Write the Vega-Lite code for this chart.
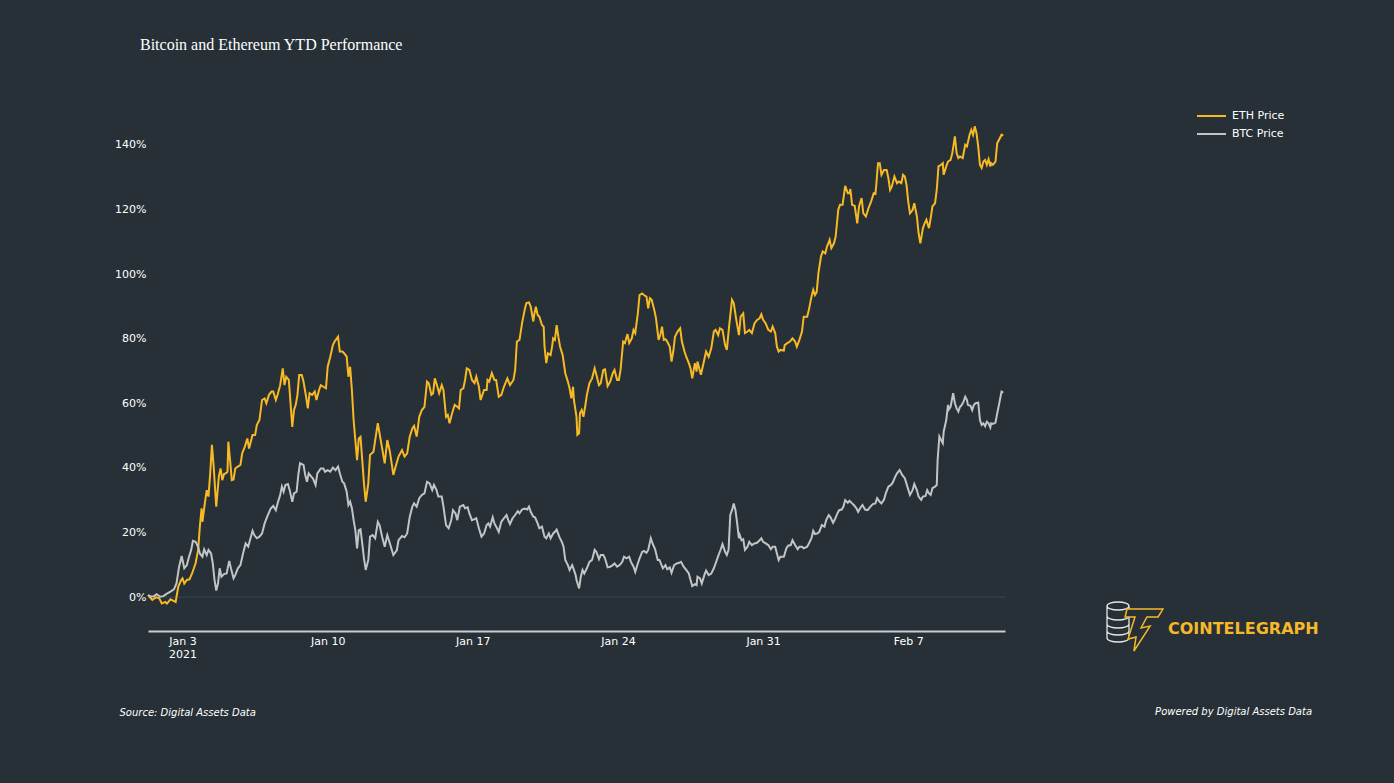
{
  "$schema": "https://vega.github.io/schema/vega-lite/v6.json",
  "width": 857,
  "height": 525,
  "autosize": {"type": "none"},
  "padding": {"left": 148, "top": 106, "right": 389, "bottom": 152},
  "background": "#263036",
  "title": {
    "text": "Bitcoin and Ethereum YTD Performance",
    "anchor": "start",
    "frame": "group",
    "dx": -8,
    "offset": 40,
    "baseline": "alphabetic",
    "font": "Liberation Serif",
    "fontSize": 16,
    "fontWeight": "normal",
    "color": "#ffffff"
  },
  "datasets": {
    "eth": [
      {"t": "2021-01-01T08:00", "v": 0.6}, {"t": "2021-01-01T13:00", "v": -0.9}, {"t": "2021-01-01T17:00", "v": -0.1}, {"t": "2021-01-01T21:00", "v": -0.4},
      {"t": "2021-01-02T00:00", "v": -2.0}, {"t": "2021-01-02T04:00", "v": -1.5}, {"t": "2021-01-02T06:00", "v": -2.0}, {"t": "2021-01-02T10:00", "v": -0.7},
      {"t": "2021-01-02T13:00", "v": -1.1}, {"t": "2021-01-02T16:00", "v": -1.5}, {"t": "2021-01-02T19:00", "v": 3.2}, {"t": "2021-01-02T22:00", "v": 5.1},
      {"t": "2021-01-03T00:00", "v": 5.8}, {"t": "2021-01-03T02:00", "v": 4.2}, {"t": "2021-01-03T05:00", "v": 5.3}, {"t": "2021-01-03T08:00", "v": 5.5},
      {"t": "2021-01-03T11:00", "v": 7.3}, {"t": "2021-01-03T15:00", "v": 10.4}, {"t": "2021-01-03T18:00", "v": 14.5}, {"t": "2021-01-03T20:00", "v": 21.8},
      {"t": "2021-01-03T22:00", "v": 27.5}, {"t": "2021-01-03T23:00", "v": 23.3}, {"t": "2021-01-04T02:00", "v": 29.5}, {"t": "2021-01-04T04:00", "v": 33.1},
      {"t": "2021-01-04T06:00", "v": 31.1}, {"t": "2021-01-04T08:00", "v": 38.3}, {"t": "2021-01-04T10:00", "v": 47.1}, {"t": "2021-01-04T12:00", "v": 40.4},
      {"t": "2021-01-04T15:00", "v": 28.0}, {"t": "2021-01-04T18:00", "v": 37.3}, {"t": "2021-01-04T20:00", "v": 39.8}, {"t": "2021-01-04T22:00", "v": 36.2},
      {"t": "2021-01-05T00:00", "v": 38.1}, {"t": "2021-01-05T02:00", "v": 38.3}, {"t": "2021-01-05T04:00", "v": 38.8}, {"t": "2021-01-05T05:00", "v": 48.1},
      {"t": "2021-01-05T07:00", "v": 42.4}, {"t": "2021-01-05T09:00", "v": 36.2}, {"t": "2021-01-05T11:00", "v": 36.4}, {"t": "2021-01-05T13:00", "v": 39.8},
      {"t": "2021-01-05T16:00", "v": 40.4}, {"t": "2021-01-05T19:00", "v": 40.9}, {"t": "2021-01-05T21:00", "v": 44.5}, {"t": "2021-01-06T00:00", "v": 46.5},
      {"t": "2021-01-06T03:00", "v": 49.1}, {"t": "2021-01-06T05:00", "v": 46.0}, {"t": "2021-01-06T09:00", "v": 50.2}, {"t": "2021-01-06T12:00", "v": 50.2},
      {"t": "2021-01-06T14:00", "v": 53.3}, {"t": "2021-01-06T17:00", "v": 54.8}, {"t": "2021-01-06T20:00", "v": 61.0}, {"t": "2021-01-06T23:00", "v": 61.5},
      {"t": "2021-01-07T01:00", "v": 60.0}, {"t": "2021-01-07T04:00", "v": 62.6}, {"t": "2021-01-07T07:00", "v": 63.6}, {"t": "2021-01-07T09:00", "v": 63.6},
      {"t": "2021-01-07T12:00", "v": 61.0}, {"t": "2021-01-07T14:00", "v": 62.6}, {"t": "2021-01-07T17:00", "v": 65.6}, {"t": "2021-01-07T20:00", "v": 70.8},
      {"t": "2021-01-07T22:00", "v": 65.6}, {"t": "2021-01-08T00:00", "v": 68.2}, {"t": "2021-01-08T03:00", "v": 67.2}, {"t": "2021-01-08T05:00", "v": 60.0},
      {"t": "2021-01-08T07:00", "v": 52.7}, {"t": "2021-01-08T09:00", "v": 57.9}, {"t": "2021-01-08T11:00", "v": 59.5}, {"t": "2021-01-08T13:00", "v": 62.6},
      {"t": "2021-01-08T15:00", "v": 68.7}, {"t": "2021-01-08T18:00", "v": 68.7}, {"t": "2021-01-08T20:00", "v": 66.7}, {"t": "2021-01-08T23:00", "v": 62.0},
      {"t": "2021-01-09T01:00", "v": 58.4}, {"t": "2021-01-09T03:00", "v": 63.1}, {"t": "2021-01-09T06:00", "v": 62.6}, {"t": "2021-01-09T09:00", "v": 63.6},
      {"t": "2021-01-09T11:00", "v": 61.0}, {"t": "2021-01-09T14:00", "v": 64.1}, {"t": "2021-01-09T16:00", "v": 65.6}, {"t": "2021-01-09T19:00", "v": 65.1},
      {"t": "2021-01-09T22:00", "v": 64.6}, {"t": "2021-01-10T00:00", "v": 71.3}, {"t": "2021-01-10T03:00", "v": 74.4}, {"t": "2021-01-10T06:00", "v": 78.0},
      {"t": "2021-01-10T08:00", "v": 79.1}, {"t": "2021-01-10T12:00", "v": 80.6}, {"t": "2021-01-10T14:00", "v": 76.0}, {"t": "2021-01-10T17:00", "v": 76.0},
      {"t": "2021-01-10T19:00", "v": 75.5}, {"t": "2021-01-10T22:00", "v": 74.4}, {"t": "2021-01-11T00:00", "v": 68.2}, {"t": "2021-01-11T02:00", "v": 71.3},
      {"t": "2021-01-11T04:00", "v": 64.1}, {"t": "2021-01-11T06:00", "v": 54.8}, {"t": "2021-01-11T08:00", "v": 48.6}, {"t": "2021-01-11T10:00", "v": 42.4},
      {"t": "2021-01-11T12:00", "v": 49.1}, {"t": "2021-01-11T14:00", "v": 49.6}, {"t": "2021-01-11T16:00", "v": 42.4}, {"t": "2021-01-11T18:00", "v": 35.2},
      {"t": "2021-01-11T20:00", "v": 29.5}, {"t": "2021-01-11T23:00", "v": 35.2}, {"t": "2021-01-12T01:00", "v": 44.0}, {"t": "2021-01-12T03:00", "v": 44.5},
      {"t": "2021-01-12T05:00", "v": 45.0}, {"t": "2021-01-12T07:00", "v": 48.6}, {"t": "2021-01-12T10:00", "v": 53.8}, {"t": "2021-01-12T12:00", "v": 50.7},
      {"t": "2021-01-12T14:00", "v": 47.6}, {"t": "2021-01-12T18:00", "v": 41.4}, {"t": "2021-01-12T21:00", "v": 48.6}, {"t": "2021-01-13T00:00", "v": 45.0},
      {"t": "2021-01-13T04:00", "v": 37.8}, {"t": "2021-01-13T06:00", "v": 39.8}, {"t": "2021-01-13T10:00", "v": 43.5}, {"t": "2021-01-13T14:00", "v": 45.5},
      {"t": "2021-01-13T17:00", "v": 43.5}, {"t": "2021-01-13T20:00", "v": 44.5}, {"t": "2021-01-13T23:00", "v": 49.7}, {"t": "2021-01-14T02:00", "v": 52.2},
      {"t": "2021-01-14T04:00", "v": 53.0}, {"t": "2021-01-14T07:00", "v": 49.7}, {"t": "2021-01-14T10:00", "v": 55.8}, {"t": "2021-01-14T13:00", "v": 57.9},
      {"t": "2021-01-14T16:00", "v": 58.9}, {"t": "2021-01-14T19:00", "v": 66.7}, {"t": "2021-01-14T21:00", "v": 66.2}, {"t": "2021-01-15T00:00", "v": 62.6},
      {"t": "2021-01-15T02:00", "v": 63.1}, {"t": "2021-01-15T04:00", "v": 67.7}, {"t": "2021-01-15T07:00", "v": 65.1}, {"t": "2021-01-15T09:00", "v": 63.1},
      {"t": "2021-01-15T12:00", "v": 65.6}, {"t": "2021-01-15T14:00", "v": 64.1}, {"t": "2021-01-15T17:00", "v": 55.8}, {"t": "2021-01-15T19:00", "v": 56.4},
      {"t": "2021-01-15T21:00", "v": 53.8}, {"t": "2021-01-16T00:00", "v": 56.9}, {"t": "2021-01-16T03:00", "v": 59.5}, {"t": "2021-01-16T06:00", "v": 58.9},
      {"t": "2021-01-16T08:00", "v": 58.4}, {"t": "2021-01-16T10:00", "v": 64.1}, {"t": "2021-01-16T13:00", "v": 64.6}, {"t": "2021-01-16T15:00", "v": 67.2},
      {"t": "2021-01-16T17:00", "v": 70.8}, {"t": "2021-01-16T20:00", "v": 70.3}, {"t": "2021-01-16T23:00", "v": 67.2}, {"t": "2021-01-17T02:00", "v": 66.2},
      {"t": "2021-01-17T04:00", "v": 68.2}, {"t": "2021-01-17T07:00", "v": 65.1}, {"t": "2021-01-17T09:00", "v": 61.0}, {"t": "2021-01-17T13:00", "v": 64.1},
      {"t": "2021-01-17T16:00", "v": 64.1}, {"t": "2021-01-17T17:00", "v": 67.2}, {"t": "2021-01-17T19:00", "v": 66.7}, {"t": "2021-01-17T22:00", "v": 69.3},
      {"t": "2021-01-18T01:00", "v": 67.2}, {"t": "2021-01-18T03:00", "v": 67.2}, {"t": "2021-01-18T06:00", "v": 62.0}, {"t": "2021-01-18T09:00", "v": 62.6},
      {"t": "2021-01-18T12:00", "v": 65.1}, {"t": "2021-01-18T16:00", "v": 67.7}, {"t": "2021-01-18T19:00", "v": 65.6}, {"t": "2021-01-18T23:00", "v": 67.2},
      {"t": "2021-01-19T01:00", "v": 70.3}, {"t": "2021-01-19T03:00", "v": 79.1}, {"t": "2021-01-19T06:00", "v": 79.6}, {"t": "2021-01-19T09:00", "v": 84.8},
      {"t": "2021-01-19T12:00", "v": 88.9}, {"t": "2021-01-19T14:00", "v": 91.0}, {"t": "2021-01-19T17:00", "v": 91.2}, {"t": "2021-01-19T19:00", "v": 89.9},
      {"t": "2021-01-19T22:00", "v": 85.3}, {"t": "2021-01-19T23:00", "v": 87.3}, {"t": "2021-01-20T01:00", "v": 89.9}, {"t": "2021-01-20T03:00", "v": 87.3},
      {"t": "2021-01-20T05:00", "v": 86.8}, {"t": "2021-01-20T08:00", "v": 84.2}, {"t": "2021-01-20T10:00", "v": 83.7}, {"t": "2021-01-20T11:00", "v": 77.5},
      {"t": "2021-01-20T13:00", "v": 72.4}, {"t": "2021-01-20T15:00", "v": 75.5}, {"t": "2021-01-20T18:00", "v": 74.9}, {"t": "2021-01-20T20:00", "v": 78.0},
      {"t": "2021-01-20T21:00", "v": 80.1}, {"t": "2021-01-20T23:00", "v": 79.6}, {"t": "2021-01-21T01:00", "v": 84.2}, {"t": "2021-01-21T03:00", "v": 80.6},
      {"t": "2021-01-21T05:00", "v": 77.5}, {"t": "2021-01-21T08:00", "v": 74.9}, {"t": "2021-01-21T11:00", "v": 69.3}, {"t": "2021-01-21T14:00", "v": 66.7},
      {"t": "2021-01-21T16:00", "v": 64.6}, {"t": "2021-01-21T18:00", "v": 61.5}, {"t": "2021-01-21T20:00", "v": 65.1}, {"t": "2021-01-21T21:00", "v": 61.0},
      {"t": "2021-01-22T00:00", "v": 55.8}, {"t": "2021-01-22T01:00", "v": 50.2}, {"t": "2021-01-22T03:00", "v": 50.7}, {"t": "2021-01-22T04:00", "v": 56.9},
      {"t": "2021-01-22T06:00", "v": 57.9}, {"t": "2021-01-22T08:00", "v": 55.8}, {"t": "2021-01-22T10:00", "v": 58.9}, {"t": "2021-01-22T12:00", "v": 62.6},
      {"t": "2021-01-22T15:00", "v": 66.2}, {"t": "2021-01-22T18:00", "v": 67.7}, {"t": "2021-01-22T21:00", "v": 70.8}, {"t": "2021-01-22T23:00", "v": 68.8},
      {"t": "2021-01-23T02:00", "v": 65.6}, {"t": "2021-01-23T04:00", "v": 66.2}, {"t": "2021-01-23T07:00", "v": 70.3}, {"t": "2021-01-23T09:00", "v": 70.5},
      {"t": "2021-01-23T12:00", "v": 65.3}, {"t": "2021-01-23T15:00", "v": 66.7}, {"t": "2021-01-23T18:00", "v": 69.3}, {"t": "2021-01-23T20:00", "v": 70.3},
      {"t": "2021-01-23T23:00", "v": 67.2}, {"t": "2021-01-24T01:00", "v": 67.2}, {"t": "2021-01-24T03:00", "v": 70.3}, {"t": "2021-01-24T06:00", "v": 79.1},
      {"t": "2021-01-24T08:00", "v": 78.6}, {"t": "2021-01-24T11:00", "v": 81.4}, {"t": "2021-01-24T13:00", "v": 78.6}, {"t": "2021-01-24T16:00", "v": 80.1},
      {"t": "2021-01-24T18:00", "v": 82.7}, {"t": "2021-01-24T20:00", "v": 81.7}, {"t": "2021-01-24T23:00", "v": 87.8}, {"t": "2021-01-25T01:00", "v": 93.5},
      {"t": "2021-01-25T04:00", "v": 94.0}, {"t": "2021-01-25T06:00", "v": 93.5}, {"t": "2021-01-25T09:00", "v": 93.0}, {"t": "2021-01-25T11:00", "v": 89.4},
      {"t": "2021-01-25T13:00", "v": 92.5}, {"t": "2021-01-25T15:00", "v": 92.0}, {"t": "2021-01-25T18:00", "v": 88.9}, {"t": "2021-01-25T20:00", "v": 86.3},
      {"t": "2021-01-25T23:00", "v": 79.6}, {"t": "2021-01-26T01:00", "v": 81.1}, {"t": "2021-01-26T03:00", "v": 83.7}, {"t": "2021-01-26T05:00", "v": 79.6},
      {"t": "2021-01-26T07:00", "v": 79.8}, {"t": "2021-01-26T09:00", "v": 79.1}, {"t": "2021-01-26T12:00", "v": 77.5}, {"t": "2021-01-26T14:00", "v": 72.9},
      {"t": "2021-01-26T16:00", "v": 76.0}, {"t": "2021-01-26T18:00", "v": 80.6}, {"t": "2021-01-26T21:00", "v": 82.2}, {"t": "2021-01-27T00:00", "v": 83.2},
      {"t": "2021-01-27T02:00", "v": 79.1}, {"t": "2021-01-27T05:00", "v": 76.0}, {"t": "2021-01-27T07:00", "v": 74.4}, {"t": "2021-01-27T10:00", "v": 72.4},
      {"t": "2021-01-27T12:00", "v": 70.8}, {"t": "2021-01-27T14:00", "v": 67.7}, {"t": "2021-01-27T17:00", "v": 72.4}, {"t": "2021-01-27T19:00", "v": 69.8},
      {"t": "2021-01-27T20:00", "v": 72.9}, {"t": "2021-01-28T00:00", "v": 68.8}, {"t": "2021-01-28T03:00", "v": 72.4}, {"t": "2021-01-28T06:00", "v": 76.0},
      {"t": "2021-01-28T09:00", "v": 74.4}, {"t": "2021-01-28T12:00", "v": 77.0}, {"t": "2021-01-28T15:00", "v": 82.2}, {"t": "2021-01-28T17:00", "v": 82.7},
      {"t": "2021-01-28T20:00", "v": 81.1}, {"t": "2021-01-28T22:00", "v": 83.2}, {"t": "2021-01-29T01:00", "v": 82.7}, {"t": "2021-01-29T04:00", "v": 78.0},
      {"t": "2021-01-29T06:00", "v": 76.5}, {"t": "2021-01-29T09:00", "v": 84.7}, {"t": "2021-01-29T12:00", "v": 92.0}, {"t": "2021-01-29T14:00", "v": 91.0},
      {"t": "2021-01-29T17:00", "v": 85.8}, {"t": "2021-01-29T20:00", "v": 81.1}, {"t": "2021-01-29T22:00", "v": 86.8}, {"t": "2021-01-30T01:00", "v": 87.8},
      {"t": "2021-01-30T03:00", "v": 81.7}, {"t": "2021-01-30T06:00", "v": 82.2}, {"t": "2021-01-30T08:00", "v": 82.7}, {"t": "2021-01-30T11:00", "v": 81.7},
      {"t": "2021-01-30T14:00", "v": 84.7}, {"t": "2021-01-30T17:00", "v": 85.8}, {"t": "2021-01-30T20:00", "v": 86.3}, {"t": "2021-01-30T22:00", "v": 87.5},
      {"t": "2021-01-31T00:00", "v": 85.8}, {"t": "2021-01-31T03:00", "v": 84.7}, {"t": "2021-01-31T06:00", "v": 82.7}, {"t": "2021-01-31T09:00", "v": 82.2},
      {"t": "2021-01-31T11:00", "v": 83.7}, {"t": "2021-01-31T14:00", "v": 81.7}, {"t": "2021-01-31T16:00", "v": 77.5}, {"t": "2021-01-31T18:00", "v": 76.0},
      {"t": "2021-01-31T20:00", "v": 76.5}, {"t": "2021-02-01T00:00", "v": 76.3}, {"t": "2021-02-01T01:00", "v": 78.0}, {"t": "2021-02-01T04:00", "v": 78.6},
      {"t": "2021-02-01T07:00", "v": 79.1}, {"t": "2021-02-01T10:00", "v": 80.1}, {"t": "2021-02-01T13:00", "v": 79.1}, {"t": "2021-02-01T15:00", "v": 77.5},
      {"t": "2021-02-01T18:00", "v": 79.6}, {"t": "2021-02-01T21:00", "v": 82.2}, {"t": "2021-02-01T23:00", "v": 86.8}, {"t": "2021-02-02T03:00", "v": 86.8},
      {"t": "2021-02-02T05:00", "v": 88.9}, {"t": "2021-02-02T08:00", "v": 93.0}, {"t": "2021-02-02T10:00", "v": 95.1}, {"t": "2021-02-02T12:00", "v": 93.5},
      {"t": "2021-02-02T14:00", "v": 94.4}, {"t": "2021-02-02T16:00", "v": 100.2}, {"t": "2021-02-02T19:00", "v": 105.4}, {"t": "2021-02-02T21:00", "v": 107.0},
      {"t": "2021-02-03T00:00", "v": 106.4}, {"t": "2021-02-03T02:00", "v": 108.5}, {"t": "2021-02-03T05:00", "v": 110.6}, {"t": "2021-02-03T07:00", "v": 108.0},
      {"t": "2021-02-03T10:00", "v": 109.5}, {"t": "2021-02-03T12:00", "v": 111.6}, {"t": "2021-02-03T15:00", "v": 119.9}, {"t": "2021-02-03T17:00", "v": 121.4},
      {"t": "2021-02-03T20:00", "v": 121.4}, {"t": "2021-02-03T23:00", "v": 127.3}, {"t": "2021-02-04T02:00", "v": 125.0}, {"t": "2021-02-04T04:00", "v": 125.0},
      {"t": "2021-02-04T05:00", "v": 126.3}, {"t": "2021-02-04T07:00", "v": 121.4}, {"t": "2021-02-04T10:00", "v": 121.1}, {"t": "2021-02-04T13:00", "v": 115.7},
      {"t": "2021-02-04T15:00", "v": 120.9}, {"t": "2021-02-04T18:00", "v": 123.5}, {"t": "2021-02-04T20:00", "v": 118.8}, {"t": "2021-02-04T23:00", "v": 117.8},
      {"t": "2021-02-05T02:00", "v": 120.4}, {"t": "2021-02-05T05:00", "v": 122.4}, {"t": "2021-02-05T08:00", "v": 125.0}, {"t": "2021-02-05T10:00", "v": 124.8},
      {"t": "2021-02-05T11:00", "v": 127.6}, {"t": "2021-02-05T13:00", "v": 134.3}, {"t": "2021-02-05T15:00", "v": 134.3}, {"t": "2021-02-05T17:00", "v": 130.7},
      {"t": "2021-02-05T20:00", "v": 132.2}, {"t": "2021-02-05T23:00", "v": 132.2}, {"t": "2021-02-06T01:00", "v": 129.7}, {"t": "2021-02-06T03:00", "v": 126.0},
      {"t": "2021-02-06T05:00", "v": 127.1}, {"t": "2021-02-06T08:00", "v": 130.2}, {"t": "2021-02-06T11:00", "v": 128.1}, {"t": "2021-02-06T13:00", "v": 128.6},
      {"t": "2021-02-06T16:00", "v": 128.1}, {"t": "2021-02-06T18:00", "v": 130.7}, {"t": "2021-02-06T20:00", "v": 130.2}, {"t": "2021-02-06T22:00", "v": 127.6},
      {"t": "2021-02-07T00:00", "v": 122.4}, {"t": "2021-02-07T02:00", "v": 118.8}, {"t": "2021-02-07T05:00", "v": 119.8}, {"t": "2021-02-07T07:00", "v": 121.9},
      {"t": "2021-02-07T10:00", "v": 117.8}, {"t": "2021-02-07T12:00", "v": 112.6}, {"t": "2021-02-07T14:00", "v": 109.5}, {"t": "2021-02-07T17:00", "v": 114.2},
      {"t": "2021-02-07T19:00", "v": 115.7}, {"t": "2021-02-07T21:00", "v": 116.8}, {"t": "2021-02-08T00:00", "v": 114.2}, {"t": "2021-02-08T02:00", "v": 117.3},
      {"t": "2021-02-08T04:00", "v": 120.9}, {"t": "2021-02-08T07:00", "v": 121.9}, {"t": "2021-02-08T09:00", "v": 126.0}, {"t": "2021-02-08T11:00", "v": 133.3},
      {"t": "2021-02-08T14:00", "v": 133.8}, {"t": "2021-02-08T16:00", "v": 134.3}, {"t": "2021-02-08T17:00", "v": 130.7}, {"t": "2021-02-08T20:00", "v": 133.3},
      {"t": "2021-02-08T22:00", "v": 134.8}, {"t": "2021-02-09T01:00", "v": 135.3}, {"t": "2021-02-09T03:00", "v": 137.4}, {"t": "2021-02-09T06:00", "v": 142.6},
      {"t": "2021-02-09T08:00", "v": 137.4}, {"t": "2021-02-09T10:00", "v": 135.9}, {"t": "2021-02-09T12:00", "v": 136.4}, {"t": "2021-02-09T15:00", "v": 135.9},
      {"t": "2021-02-09T18:00", "v": 140.0}, {"t": "2021-02-09T20:00", "v": 139.5}, {"t": "2021-02-09T23:00", "v": 143.1}, {"t": "2021-02-10T01:00", "v": 144.6},
      {"t": "2021-02-10T03:00", "v": 143.1}, {"t": "2021-02-10T05:00", "v": 145.7}, {"t": "2021-02-10T07:00", "v": 143.6}, {"t": "2021-02-10T09:00", "v": 139.5},
      {"t": "2021-02-10T11:00", "v": 133.8}, {"t": "2021-02-10T13:00", "v": 132.8}, {"t": "2021-02-10T15:00", "v": 134.8}, {"t": "2021-02-10T17:00", "v": 135.3},
      {"t": "2021-02-10T19:00", "v": 133.8}, {"t": "2021-02-10T21:00", "v": 135.5}, {"t": "2021-02-10T23:00", "v": 133.3}, {"t": "2021-02-11T00:00", "v": 134.3},
      {"t": "2021-02-11T02:00", "v": 133.8}, {"t": "2021-02-11T05:00", "v": 134.8}, {"t": "2021-02-11T07:00", "v": 140.5}, {"t": "2021-02-11T10:00", "v": 142.0},
      {"t": "2021-02-11T12:00", "v": 143.1}, {"t": "2021-02-11T14:00", "v": 142.8}
    ],
    "btc": [
      {"t": "2021-01-01T08:00", "v": 0.6}, {"t": "2021-01-01T12:00", "v": 0.1}, {"t": "2021-01-01T15:00", "v": 0.3}, {"t": "2021-01-01T18:00", "v": 0.9},
      {"t": "2021-01-01T22:00", "v": 0.1}, {"t": "2021-01-02T02:00", "v": 0.3}, {"t": "2021-01-02T05:00", "v": 0.9}, {"t": "2021-01-02T10:00", "v": 1.7},
      {"t": "2021-01-02T14:00", "v": 2.4}, {"t": "2021-01-02T17:00", "v": 4.2}, {"t": "2021-01-02T20:00", "v": 9.4}, {"t": "2021-01-02T23:00", "v": 12.7},
      {"t": "2021-01-03T02:00", "v": 8.9}, {"t": "2021-01-03T05:00", "v": 9.9}, {"t": "2021-01-03T07:00", "v": 12.0}, {"t": "2021-01-03T10:00", "v": 14.6},
      {"t": "2021-01-03T12:00", "v": 17.4}, {"t": "2021-01-03T15:00", "v": 17.1}, {"t": "2021-01-03T18:00", "v": 15.6}, {"t": "2021-01-03T20:00", "v": 13.5},
      {"t": "2021-01-03T23:00", "v": 12.5}, {"t": "2021-01-04T01:00", "v": 14.8}, {"t": "2021-01-04T04:00", "v": 13.0}, {"t": "2021-01-04T06:00", "v": 14.6},
      {"t": "2021-01-04T09:00", "v": 13.5}, {"t": "2021-01-04T11:00", "v": 10.4}, {"t": "2021-01-04T13:00", "v": 5.3}, {"t": "2021-01-04T15:00", "v": 2.0},
      {"t": "2021-01-04T17:00", "v": 4.2}, {"t": "2021-01-04T19:00", "v": 8.9}, {"t": "2021-01-04T21:00", "v": 6.3}, {"t": "2021-01-05T00:00", "v": 7.1},
      {"t": "2021-01-05T03:00", "v": 7.3}, {"t": "2021-01-05T06:00", "v": 11.2}, {"t": "2021-01-05T08:00", "v": 8.9}, {"t": "2021-01-05T11:00", "v": 5.8},
      {"t": "2021-01-05T13:00", "v": 6.8}, {"t": "2021-01-05T16:00", "v": 8.9}, {"t": "2021-01-05T19:00", "v": 9.9}, {"t": "2021-01-05T22:00", "v": 13.5},
      {"t": "2021-01-06T01:00", "v": 16.6}, {"t": "2021-01-06T04:00", "v": 15.6}, {"t": "2021-01-06T06:00", "v": 17.6}, {"t": "2021-01-06T09:00", "v": 20.5},
      {"t": "2021-01-06T11:00", "v": 19.2}, {"t": "2021-01-06T14:00", "v": 18.2}, {"t": "2021-01-06T17:00", "v": 18.7}, {"t": "2021-01-06T20:00", "v": 19.7},
      {"t": "2021-01-06T23:00", "v": 22.8}, {"t": "2021-01-07T02:00", "v": 24.9}, {"t": "2021-01-07T06:00", "v": 27.4}, {"t": "2021-01-07T09:00", "v": 28.2},
      {"t": "2021-01-07T12:00", "v": 26.9}, {"t": "2021-01-07T14:00", "v": 29.0}, {"t": "2021-01-07T17:00", "v": 31.6}, {"t": "2021-01-07T19:00", "v": 34.2},
      {"t": "2021-01-07T21:00", "v": 32.6}, {"t": "2021-01-07T23:00", "v": 34.7}, {"t": "2021-01-08T02:00", "v": 35.0}, {"t": "2021-01-08T04:00", "v": 33.1},
      {"t": "2021-01-08T07:00", "v": 29.5}, {"t": "2021-01-08T09:00", "v": 32.1}, {"t": "2021-01-08T12:00", "v": 32.6}, {"t": "2021-01-08T14:00", "v": 37.8},
      {"t": "2021-01-08T16:00", "v": 41.4}, {"t": "2021-01-08T20:00", "v": 40.9}, {"t": "2021-01-08T22:00", "v": 37.8}, {"t": "2021-01-09T00:00", "v": 35.7},
      {"t": "2021-01-09T02:00", "v": 38.3}, {"t": "2021-01-09T05:00", "v": 37.3}, {"t": "2021-01-09T07:00", "v": 36.7}, {"t": "2021-01-09T10:00", "v": 34.7},
      {"t": "2021-01-09T12:00", "v": 38.3}, {"t": "2021-01-09T16:00", "v": 39.8}, {"t": "2021-01-09T19:00", "v": 39.8}, {"t": "2021-01-09T21:00", "v": 38.8},
      {"t": "2021-01-10T00:00", "v": 39.3}, {"t": "2021-01-10T03:00", "v": 38.8}, {"t": "2021-01-10T06:00", "v": 40.1}, {"t": "2021-01-10T09:00", "v": 39.3},
      {"t": "2021-01-10T12:00", "v": 40.4}, {"t": "2021-01-10T14:00", "v": 38.3}, {"t": "2021-01-10T17:00", "v": 35.7}, {"t": "2021-01-10T19:00", "v": 35.2},
      {"t": "2021-01-10T22:00", "v": 32.6}, {"t": "2021-01-11T00:00", "v": 28.5}, {"t": "2021-01-11T02:00", "v": 29.5}, {"t": "2021-01-11T04:00", "v": 27.5},
      {"t": "2021-01-11T06:00", "v": 23.8}, {"t": "2021-01-11T08:00", "v": 20.7}, {"t": "2021-01-11T10:00", "v": 15.1}, {"t": "2021-01-11T12:00", "v": 20.7},
      {"t": "2021-01-11T14:00", "v": 21.0}, {"t": "2021-01-11T16:00", "v": 16.6}, {"t": "2021-01-11T18:00", "v": 12.0}, {"t": "2021-01-11T20:00", "v": 8.4},
      {"t": "2021-01-11T23:00", "v": 11.5}, {"t": "2021-01-12T01:00", "v": 18.7}, {"t": "2021-01-12T04:00", "v": 19.2}, {"t": "2021-01-12T07:00", "v": 18.2},
      {"t": "2021-01-12T10:00", "v": 23.3}, {"t": "2021-01-12T12:00", "v": 22.3}, {"t": "2021-01-12T15:00", "v": 18.7}, {"t": "2021-01-12T18:00", "v": 15.6},
      {"t": "2021-01-12T21:00", "v": 19.2}, {"t": "2021-01-13T00:00", "v": 16.6}, {"t": "2021-01-13T04:00", "v": 13.0}, {"t": "2021-01-13T08:00", "v": 14.5},
      {"t": "2021-01-13T10:00", "v": 17.6}, {"t": "2021-01-13T14:00", "v": 18.9}, {"t": "2021-01-13T17:00", "v": 18.5}, {"t": "2021-01-13T20:00", "v": 19.7},
      {"t": "2021-01-13T23:00", "v": 24.9}, {"t": "2021-01-14T02:00", "v": 28.0}, {"t": "2021-01-14T04:00", "v": 29.0}, {"t": "2021-01-14T07:00", "v": 28.0},
      {"t": "2021-01-14T10:00", "v": 30.6}, {"t": "2021-01-14T13:00", "v": 31.6}, {"t": "2021-01-14T16:00", "v": 32.1}, {"t": "2021-01-14T19:00", "v": 35.7},
      {"t": "2021-01-14T22:00", "v": 35.2}, {"t": "2021-01-15T01:00", "v": 33.1}, {"t": "2021-01-15T03:00", "v": 34.7}, {"t": "2021-01-15T06:00", "v": 33.1},
      {"t": "2021-01-15T08:00", "v": 31.1}, {"t": "2021-01-15T12:00", "v": 31.1}, {"t": "2021-01-15T14:00", "v": 28.0}, {"t": "2021-01-15T17:00", "v": 22.3},
      {"t": "2021-01-15T20:00", "v": 21.3}, {"t": "2021-01-15T23:00", "v": 23.8}, {"t": "2021-01-16T01:00", "v": 26.9}, {"t": "2021-01-16T04:00", "v": 25.9},
      {"t": "2021-01-16T06:00", "v": 23.8}, {"t": "2021-01-16T09:00", "v": 28.0}, {"t": "2021-01-16T13:00", "v": 28.5}, {"t": "2021-01-16T15:00", "v": 27.5},
      {"t": "2021-01-16T18:00", "v": 27.8}, {"t": "2021-01-16T20:00", "v": 25.9}, {"t": "2021-01-16T23:00", "v": 23.8}, {"t": "2021-01-17T02:00", "v": 24.1},
      {"t": "2021-01-17T04:00", "v": 24.4}, {"t": "2021-01-17T07:00", "v": 21.3}, {"t": "2021-01-17T10:00", "v": 18.7}, {"t": "2021-01-17T13:00", "v": 19.7},
      {"t": "2021-01-17T16:00", "v": 22.3}, {"t": "2021-01-17T18:00", "v": 22.8}, {"t": "2021-01-17T20:00", "v": 21.8}, {"t": "2021-01-17T23:00", "v": 24.7},
      {"t": "2021-01-18T01:00", "v": 22.8}, {"t": "2021-01-18T04:00", "v": 21.3}, {"t": "2021-01-18T06:00", "v": 20.2}, {"t": "2021-01-18T09:00", "v": 23.3},
      {"t": "2021-01-18T12:00", "v": 24.4}, {"t": "2021-01-18T15:00", "v": 25.4}, {"t": "2021-01-18T17:00", "v": 23.8}, {"t": "2021-01-18T19:00", "v": 22.6},
      {"t": "2021-01-18T22:00", "v": 24.4}, {"t": "2021-01-19T01:00", "v": 25.4}, {"t": "2021-01-19T04:00", "v": 26.6}, {"t": "2021-01-19T06:00", "v": 25.9},
      {"t": "2021-01-19T09:00", "v": 27.1}, {"t": "2021-01-19T12:00", "v": 27.4}, {"t": "2021-01-19T15:00", "v": 27.1}, {"t": "2021-01-19T17:00", "v": 28.0},
      {"t": "2021-01-19T19:00", "v": 26.4}, {"t": "2021-01-19T22:00", "v": 24.9}, {"t": "2021-01-20T00:00", "v": 24.7}, {"t": "2021-01-20T03:00", "v": 22.8},
      {"t": "2021-01-20T05:00", "v": 21.3}, {"t": "2021-01-20T08:00", "v": 21.8}, {"t": "2021-01-20T11:00", "v": 18.7}, {"t": "2021-01-20T13:00", "v": 18.2},
      {"t": "2021-01-20T16:00", "v": 19.7}, {"t": "2021-01-20T18:00", "v": 18.2}, {"t": "2021-01-20T21:00", "v": 19.7}, {"t": "2021-01-20T23:00", "v": 20.2},
      {"t": "2021-01-21T01:00", "v": 20.9}, {"t": "2021-01-21T04:00", "v": 18.7}, {"t": "2021-01-21T07:00", "v": 17.1}, {"t": "2021-01-21T09:00", "v": 15.6},
      {"t": "2021-01-21T11:00", "v": 11.5}, {"t": "2021-01-21T14:00", "v": 9.9}, {"t": "2021-01-21T16:00", "v": 8.4}, {"t": "2021-01-21T19:00", "v": 9.9},
      {"t": "2021-01-21T21:00", "v": 8.4}, {"t": "2021-01-21T23:00", "v": 6.8}, {"t": "2021-01-22T00:00", "v": 5.3}, {"t": "2021-01-22T03:00", "v": 2.7},
      {"t": "2021-01-22T05:00", "v": 6.3}, {"t": "2021-01-22T07:00", "v": 8.4}, {"t": "2021-01-22T09:00", "v": 7.3}, {"t": "2021-01-22T12:00", "v": 8.9},
      {"t": "2021-01-22T15:00", "v": 10.9}, {"t": "2021-01-22T18:00", "v": 11.5}, {"t": "2021-01-22T21:00", "v": 14.6}, {"t": "2021-01-22T23:00", "v": 14.0},
      {"t": "2021-01-23T02:00", "v": 11.7}, {"t": "2021-01-23T04:00", "v": 13.0}, {"t": "2021-01-23T07:00", "v": 13.0}, {"t": "2021-01-23T09:00", "v": 12.0},
      {"t": "2021-01-23T12:00", "v": 9.2}, {"t": "2021-01-23T15:00", "v": 9.4}, {"t": "2021-01-23T18:00", "v": 9.9}, {"t": "2021-01-23T20:00", "v": 10.4},
      {"t": "2021-01-23T23:00", "v": 9.4}, {"t": "2021-01-24T02:00", "v": 9.9}, {"t": "2021-01-24T05:00", "v": 10.9}, {"t": "2021-01-24T07:00", "v": 12.5},
      {"t": "2021-01-24T10:00", "v": 12.0}, {"t": "2021-01-24T13:00", "v": 12.5}, {"t": "2021-01-24T15:00", "v": 10.9}, {"t": "2021-01-24T18:00", "v": 9.4},
      {"t": "2021-01-24T20:00", "v": 7.8}, {"t": "2021-01-24T23:00", "v": 10.4}, {"t": "2021-01-25T01:00", "v": 12.0}, {"t": "2021-01-25T04:00", "v": 14.0},
      {"t": "2021-01-25T06:00", "v": 14.3}, {"t": "2021-01-25T09:00", "v": 13.7}, {"t": "2021-01-25T11:00", "v": 14.6}, {"t": "2021-01-25T14:00", "v": 18.2},
      {"t": "2021-01-25T16:00", "v": 16.6}, {"t": "2021-01-25T19:00", "v": 14.8}, {"t": "2021-01-25T22:00", "v": 11.5}, {"t": "2021-01-26T00:00", "v": 11.5},
      {"t": "2021-01-26T04:00", "v": 8.9}, {"t": "2021-01-26T07:00", "v": 9.9}, {"t": "2021-01-26T09:00", "v": 8.6}, {"t": "2021-01-26T12:00", "v": 9.2},
      {"t": "2021-01-26T14:00", "v": 7.5}, {"t": "2021-01-26T17:00", "v": 9.9}, {"t": "2021-01-26T20:00", "v": 10.4}, {"t": "2021-01-26T23:00", "v": 10.6},
      {"t": "2021-01-27T01:00", "v": 10.9}, {"t": "2021-01-27T04:00", "v": 9.4}, {"t": "2021-01-27T07:00", "v": 8.4}, {"t": "2021-01-27T10:00", "v": 7.3},
      {"t": "2021-01-27T12:00", "v": 5.3}, {"t": "2021-01-27T14:00", "v": 3.4}, {"t": "2021-01-27T17:00", "v": 4.0}, {"t": "2021-01-27T19:00", "v": 3.7},
      {"t": "2021-01-27T20:00", "v": 6.3}, {"t": "2021-01-27T23:00", "v": 5.8}, {"t": "2021-01-28T01:00", "v": 4.2}, {"t": "2021-01-28T04:00", "v": 6.8},
      {"t": "2021-01-28T06:00", "v": 8.2}, {"t": "2021-01-28T09:00", "v": 6.8}, {"t": "2021-01-28T12:00", "v": 7.3}, {"t": "2021-01-28T15:00", "v": 8.9},
      {"t": "2021-01-28T17:00", "v": 10.4}, {"t": "2021-01-28T20:00", "v": 12.7}, {"t": "2021-01-28T23:00", "v": 14.8}, {"t": "2021-01-29T01:00", "v": 16.4},
      {"t": "2021-01-29T04:00", "v": 14.0}, {"t": "2021-01-29T06:00", "v": 13.0}, {"t": "2021-01-29T08:00", "v": 14.6}, {"t": "2021-01-29T10:00", "v": 25.4},
      {"t": "2021-01-29T12:00", "v": 26.9}, {"t": "2021-01-29T14:00", "v": 29.0}, {"t": "2021-01-29T16:00", "v": 26.9}, {"t": "2021-01-29T18:00", "v": 22.8},
      {"t": "2021-01-29T20:00", "v": 18.2}, {"t": "2021-01-29T21:00", "v": 19.2}, {"t": "2021-01-29T23:00", "v": 17.6}, {"t": "2021-01-30T01:00", "v": 17.9},
      {"t": "2021-01-30T03:00", "v": 14.6}, {"t": "2021-01-30T06:00", "v": 15.6}, {"t": "2021-01-30T08:00", "v": 17.1}, {"t": "2021-01-30T11:00", "v": 16.1},
      {"t": "2021-01-30T14:00", "v": 16.6}, {"t": "2021-01-30T17:00", "v": 16.8}, {"t": "2021-01-30T20:00", "v": 17.6}, {"t": "2021-01-30T22:00", "v": 18.2},
      {"t": "2021-01-31T00:00", "v": 17.1}, {"t": "2021-01-31T03:00", "v": 16.6}, {"t": "2021-01-31T06:00", "v": 16.1}, {"t": "2021-01-31T09:00", "v": 14.8},
      {"t": "2021-01-31T11:00", "v": 15.6}, {"t": "2021-01-31T14:00", "v": 15.6}, {"t": "2021-01-31T16:00", "v": 13.5}, {"t": "2021-01-31T18:00", "v": 11.5},
      {"t": "2021-01-31T20:00", "v": 12.5}, {"t": "2021-02-01T00:00", "v": 12.5}, {"t": "2021-02-01T03:00", "v": 15.1}, {"t": "2021-02-01T05:00", "v": 15.9},
      {"t": "2021-02-01T08:00", "v": 16.1}, {"t": "2021-02-01T10:00", "v": 17.6}, {"t": "2021-02-01T13:00", "v": 16.1}, {"t": "2021-02-01T16:00", "v": 14.8},
      {"t": "2021-02-01T18:00", "v": 15.6}, {"t": "2021-02-01T21:00", "v": 15.6}, {"t": "2021-02-01T23:00", "v": 15.1}, {"t": "2021-02-02T03:00", "v": 15.6},
      {"t": "2021-02-02T05:00", "v": 16.6}, {"t": "2021-02-02T08:00", "v": 18.2}, {"t": "2021-02-02T10:00", "v": 20.5}, {"t": "2021-02-02T12:00", "v": 19.5},
      {"t": "2021-02-02T15:00", "v": 19.7}, {"t": "2021-02-02T17:00", "v": 20.2}, {"t": "2021-02-02T20:00", "v": 22.3}, {"t": "2021-02-02T23:00", "v": 21.8},
      {"t": "2021-02-03T01:00", "v": 23.8}, {"t": "2021-02-03T04:00", "v": 25.4}, {"t": "2021-02-03T06:00", "v": 24.7}, {"t": "2021-02-03T09:00", "v": 23.0},
      {"t": "2021-02-03T11:00", "v": 24.0}, {"t": "2021-02-03T14:00", "v": 25.9}, {"t": "2021-02-03T16:00", "v": 26.9}, {"t": "2021-02-03T19:00", "v": 27.1},
      {"t": "2021-02-03T21:00", "v": 28.0}, {"t": "2021-02-03T23:00", "v": 30.0}, {"t": "2021-02-04T02:00", "v": 29.2}, {"t": "2021-02-04T04:00", "v": 29.8},
      {"t": "2021-02-04T07:00", "v": 29.0}, {"t": "2021-02-04T09:00", "v": 28.5}, {"t": "2021-02-04T12:00", "v": 27.5}, {"t": "2021-02-04T14:00", "v": 26.4},
      {"t": "2021-02-04T17:00", "v": 27.8}, {"t": "2021-02-04T19:00", "v": 28.5}, {"t": "2021-02-04T22:00", "v": 27.1}, {"t": "2021-02-05T01:00", "v": 26.9},
      {"t": "2021-02-05T04:00", "v": 27.9}, {"t": "2021-02-05T07:00", "v": 28.8}, {"t": "2021-02-05T10:00", "v": 29.0}, {"t": "2021-02-05T12:00", "v": 30.6},
      {"t": "2021-02-05T15:00", "v": 29.5}, {"t": "2021-02-05T17:00", "v": 29.0}, {"t": "2021-02-05T20:00", "v": 30.2}, {"t": "2021-02-05T22:00", "v": 32.1},
      {"t": "2021-02-06T01:00", "v": 34.2}, {"t": "2021-02-06T04:00", "v": 34.7}, {"t": "2021-02-06T06:00", "v": 35.4}, {"t": "2021-02-06T09:00", "v": 37.3},
      {"t": "2021-02-06T11:00", "v": 38.3}, {"t": "2021-02-06T14:00", "v": 39.3}, {"t": "2021-02-06T17:00", "v": 37.8}, {"t": "2021-02-06T20:00", "v": 36.8},
      {"t": "2021-02-06T23:00", "v": 34.2}, {"t": "2021-02-07T02:00", "v": 31.6}, {"t": "2021-02-07T05:00", "v": 33.1}, {"t": "2021-02-07T07:00", "v": 35.0},
      {"t": "2021-02-07T10:00", "v": 33.1}, {"t": "2021-02-07T12:00", "v": 31.1}, {"t": "2021-02-07T15:00", "v": 30.1}, {"t": "2021-02-07T17:00", "v": 31.1},
      {"t": "2021-02-07T20:00", "v": 31.3}, {"t": "2021-02-07T22:00", "v": 33.1}, {"t": "2021-02-08T00:00", "v": 32.1}, {"t": "2021-02-08T02:00", "v": 31.6},
      {"t": "2021-02-08T04:00", "v": 33.7}, {"t": "2021-02-08T07:00", "v": 34.2}, {"t": "2021-02-08T09:00", "v": 34.7}, {"t": "2021-02-08T10:00", "v": 42.4},
      {"t": "2021-02-08T12:00", "v": 49.7}, {"t": "2021-02-08T14:00", "v": 48.6}, {"t": "2021-02-08T16:00", "v": 47.6}, {"t": "2021-02-08T17:00", "v": 51.2},
      {"t": "2021-02-08T20:00", "v": 54.8}, {"t": "2021-02-08T22:00", "v": 59.5}, {"t": "2021-02-08T23:00", "v": 58.1}, {"t": "2021-02-09T01:00", "v": 58.9},
      {"t": "2021-02-09T04:00", "v": 63.1}, {"t": "2021-02-09T06:00", "v": 60.0}, {"t": "2021-02-09T08:00", "v": 58.4}, {"t": "2021-02-09T10:00", "v": 57.4},
      {"t": "2021-02-09T12:00", "v": 58.9}, {"t": "2021-02-09T14:00", "v": 59.5}, {"t": "2021-02-09T16:00", "v": 60.5}, {"t": "2021-02-09T18:00", "v": 62.0},
      {"t": "2021-02-09T20:00", "v": 61.0}, {"t": "2021-02-09T21:00", "v": 59.5}, {"t": "2021-02-10T00:00", "v": 59.2}, {"t": "2021-02-10T02:00", "v": 57.9},
      {"t": "2021-02-10T04:00", "v": 59.5}, {"t": "2021-02-10T06:00", "v": 60.0}, {"t": "2021-02-10T09:00", "v": 60.2}, {"t": "2021-02-10T11:00", "v": 54.8},
      {"t": "2021-02-10T13:00", "v": 53.3}, {"t": "2021-02-10T15:00", "v": 53.8}, {"t": "2021-02-10T17:00", "v": 52.9}, {"t": "2021-02-10T19:00", "v": 54.3},
      {"t": "2021-02-10T21:00", "v": 53.8}, {"t": "2021-02-10T23:00", "v": 52.5}, {"t": "2021-02-11T00:00", "v": 53.8}, {"t": "2021-02-11T02:00", "v": 53.6},
      {"t": "2021-02-11T05:00", "v": 54.0}, {"t": "2021-02-11T07:00", "v": 56.9}, {"t": "2021-02-11T09:00", "v": 59.5}, {"t": "2021-02-11T12:00", "v": 63.6},
      {"t": "2021-02-11T14:00", "v": 63.3}
    ]
  },
  "layer": [
    {
      "data": {"values": [{}]},
      "mark": {"type": "rule", "color": "#3b454c", "strokeWidth": 1},
      "encoding": {"y": {"datum": 0, "type": "quantitative"}}
    },
    {
      "data": {"name": "eth"},
      "mark": {"type": "line", "strokeWidth": 2},
      "encoding": {
        "x": {
          "field": "t",
          "type": "temporal",
          "title": "Source: Digital Assets Data",
          "scale": {
            "domain": [
              {"year": 2021, "month": "jan", "date": 1, "hours": 8},
              {"year": 2021, "month": "feb", "date": 11, "hours": 16}
            ],
            "nice": false
          },
          "axis": {
            "values": [
              {"year": 2021, "month": "jan", "date": 3},
              {"year": 2021, "month": "jan", "date": 10},
              {"year": 2021, "month": "jan", "date": 17},
              {"year": 2021, "month": "jan", "date": 24},
              {"year": 2021, "month": "jan", "date": 31},
              {"year": 2021, "month": "feb", "date": 7}
            ],
            "labelExpr": "datum.index == 0 ? [timeFormat(datum.value, '%b %-d'), '2021'] : timeFormat(datum.value, '%b %-d')",
            "grid": false,
            "ticks": false,
            "tickSize": 0,
            "domainColor": "#c9cdd0",
            "domainWidth": 2,
            "labelPadding": 4,
            "labelLineHeight": 13,
            "labelColor": "#ffffff",
            "labelFont": "DejaVu Sans",
            "labelFontSize": 11,
            "labelFlush": false,
            "labelOverlap": false,
            "titleX": -29,
            "titleY": 84,
            "titleAlign": "left",
            "titleBaseline": "alphabetic",
            "titleFont": "DejaVu Sans",
            "titleFontSize": 10,
            "titleFontStyle": "italic",
            "titleFontWeight": "normal",
            "titleColor": "#ffffff"
          }
        },
        "y": {
          "field": "v",
          "type": "quantitative",
          "title": null,
          "scale": {"domain": [-10.5, 152], "nice": false, "zero": false},
          "axis": {
            "values": [0, 20, 40, 60, 80, 100, 120, 140],
            "labelExpr": "datum.value + '%'",
            "grid": false,
            "ticks": false,
            "tickSize": 0,
            "domain": false,
            "labelPadding": 2,
            "labelColor": "#ffffff",
            "labelFont": "DejaVu Sans",
            "labelFontSize": 11
          }
        },
        "color": {
          "datum": "ETH Price",
          "type": "nominal",
          "scale": {"domain": ["ETH Price", "BTC Price"], "range": ["#f7b924", "#c3c4c5"]},
          "legend": {
            "title": null,
            "orient": "none",
            "legendX": 1048,
            "legendY": 2,
            "symbolType": "stroke",
            "symbolSize": 841,
            "symbolStrokeWidth": 2,
            "clipHeight": 16,
            "labelColor": "#ffffff",
            "labelFont": "DejaVu Sans",
            "labelFontSize": 11,
            "labelOffset": 5,
            "rowPadding": 2
          }
        }
      }
    },
    {
      "data": {"name": "btc"},
      "mark": {"type": "line", "strokeWidth": 2},
      "encoding": {
        "x": {"field": "t", "type": "temporal"},
        "y": {"field": "v", "type": "quantitative"},
        "color": {"datum": "BTC Price", "type": "nominal"}
      }
    },
    {
      "data": {"values": [{}]},
      "mark": {"type": "text", "text": "Powered by Digital Assets Data", "align": "right", "baseline": "alphabetic", "font": "DejaVu Sans", "fontSize": 10, "fontStyle": "italic", "color": "#ffffff"},
      "encoding": {
        "x": {"datum": {"year": 2021, "month": "feb", "date": 26, "hours": 11, "minutes": 24}, "type": "temporal"},
        "y": {"datum": -36.5, "type": "quantitative"}
      }
    },
    {
      "data": {"values": [{}]},
      "mark": {"type": "text", "text": "COINTELEGRAPH", "align": "left", "baseline": "alphabetic", "font": "DejaVu Sans", "fontSize": 16, "fontWeight": "bold", "color": "#f5b829"},
      "encoding": {
        "x": {"datum": {"year": 2021, "month": "feb", "date": 19, "hours": 12, "minutes": 42}, "type": "temporal"},
        "y": {"datum": -11.4, "type": "quantitative"}
      }
    },
    {
      "data": {"values": [{}]},
      "mark": {
        "type": "point",
        "shape": "M-0.55,-0.75A0.55,0.2,0,1,1,0.55,-0.75A0.55,0.2,0,1,1,-0.55,-0.75Z M-0.55,-0.75L-0.55,0.85 M0.55,-0.75L0.55,0.85 M-0.55,-0.25A0.55,0.2,0,0,0,0.55,-0.25 M-0.55,0.15A0.55,0.2,0,0,0,0.55,0.15 M-0.55,0.5A0.55,0.2,0,0,0,0.55,0.5 M-0.55,0.85A0.55,0.2,0,0,0,0.55,0.85",
        "size": 1600,
        "filled": false,
        "stroke": "#e6e6e6",
        "strokeWidth": 1.3,
        "opacity": 1
      },
      "encoding": {
        "x": {"datum": {"year": 2021, "month": "feb", "date": 17, "hours": 2, "minutes": 48}, "type": "temporal"},
        "y": {"datum": -7.4, "type": "quantitative"}
      }
    },
    {
      "data": {"values": [{}]},
      "mark": {
        "type": "point",
        "shape": "M-0.81,-1L0.9,-1L0.67,-0.62L0.14,-0.62L-0.14,-0.1L0.29,-0.19L-0.48,1L-0.38,0.33L-0.76,0.43L-0.43,-0.62L-0.9,-0.62Z",
        "size": 1764,
        "filled": true,
        "fill": "#263036",
        "stroke": "#f5b829",
        "strokeWidth": 1.5,
        "opacity": 1
      },
      "encoding": {
        "x": {"datum": {"year": 2021, "month": "feb", "date": 18, "hours": 8, "minutes": 54}, "type": "temporal"},
        "y": {"datum": -10.2, "type": "quantitative"}
      }
    }
  ],
  "config": {
    "view": {"stroke": null}
  }
}
